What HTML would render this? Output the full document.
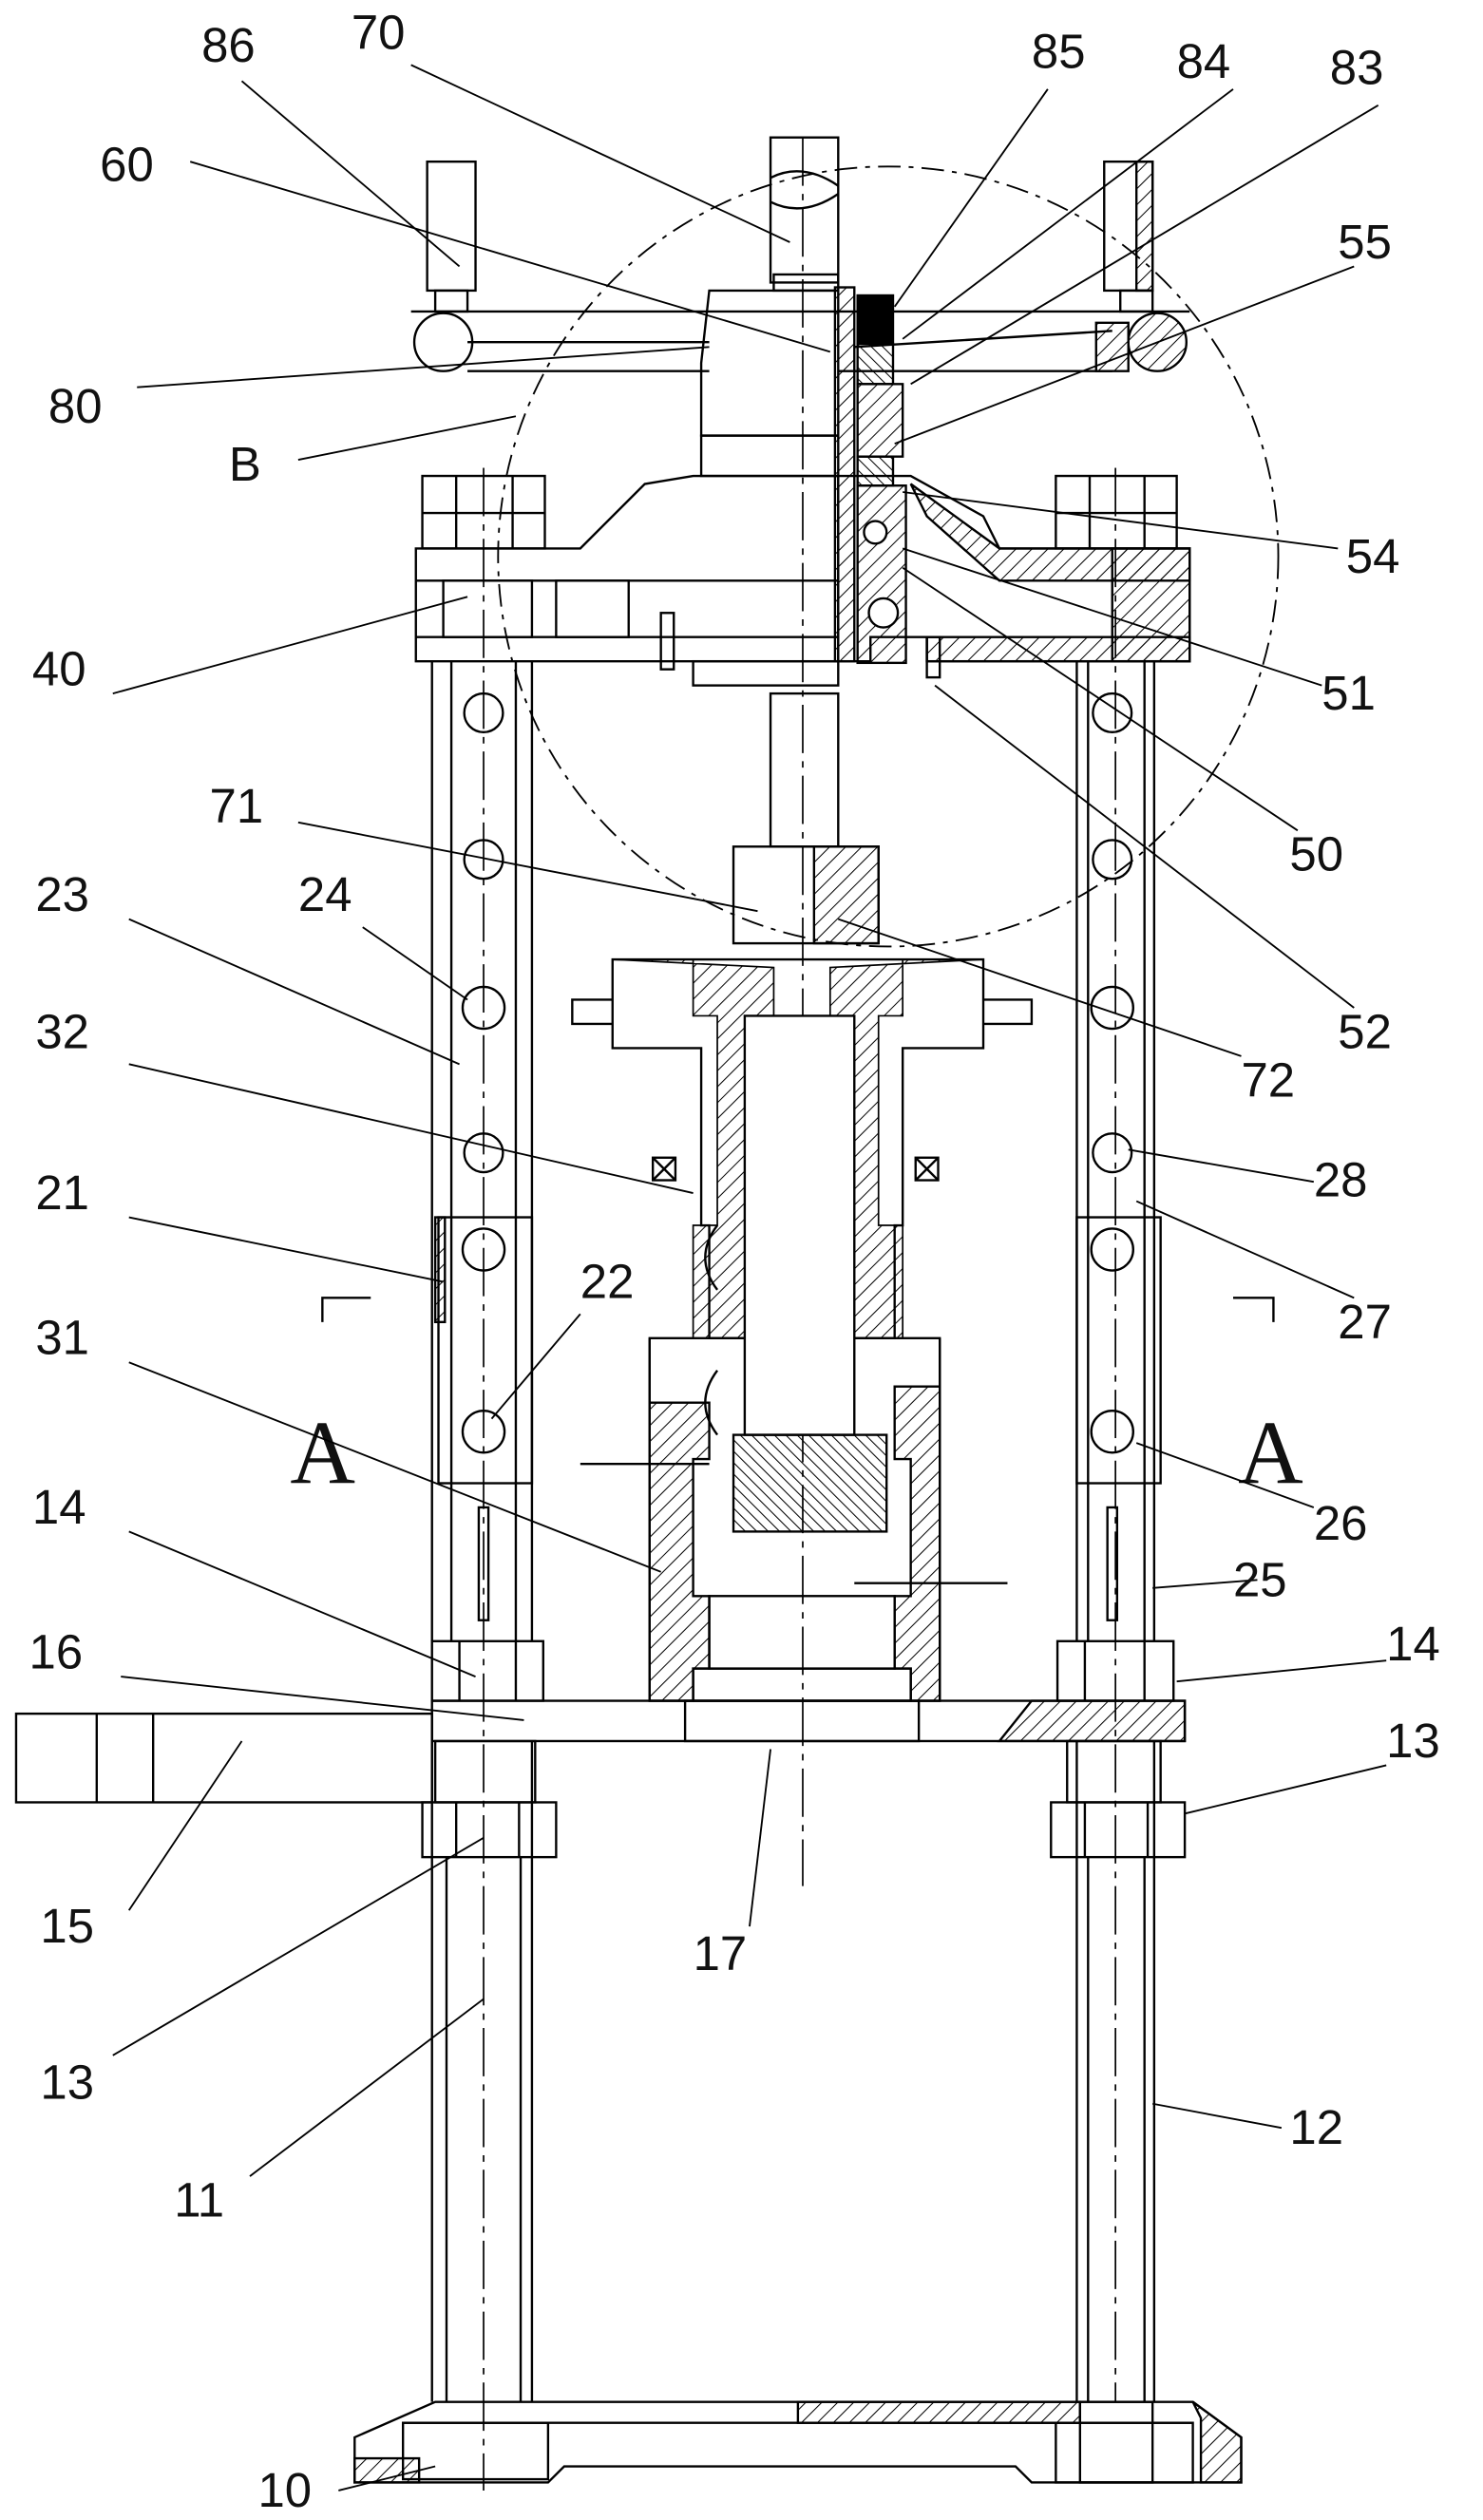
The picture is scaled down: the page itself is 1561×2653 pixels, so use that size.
<!DOCTYPE html>
<html><head><meta charset="utf-8"><style>
html,body{margin:0;padding:0;background:#fff}
svg{display:block}
text{font-family:"Liberation Sans",sans-serif;font-size:30px;fill:#111}
</style></head><body>
<svg width="1561" height="2653" viewBox="0 0 920 1563" xmlns="http://www.w3.org/2000/svg">
<defs>
<pattern id="h" width="7" height="7" patternUnits="userSpaceOnUse" patternTransform="rotate(45)"><line x1="0" y1="0" x2="0" y2="7" stroke="#000" stroke-width="1.2"/></pattern>
<pattern id="h2" width="5" height="5" patternUnits="userSpaceOnUse" patternTransform="rotate(-45)"><line x1="0" y1="0" x2="0" y2="5" stroke="#000" stroke-width="1.2"/></pattern>
</defs>
<g fill="none" stroke="#000" stroke-width="1.4">
<!-- dashed circle B -->
<circle cx="551" cy="345" r="242" stroke-dasharray="14 5 3 5" stroke-width="1.1"/>
<!-- center line -->
<line x1="498" y1="85" x2="498" y2="1170" stroke-dasharray="30 5 4 5" stroke-width="1"/>
<line x1="300" y1="290" x2="300" y2="1545" stroke-dasharray="30 5 4 5" stroke-width="1"/>
<line x1="692" y1="290" x2="692" y2="1490" stroke-dasharray="30 5 4 5" stroke-width="1"/>

<!-- base -->
<path d="M270 1490 H740 L770 1512 V1540 H640 L630 1530 H350 L340 1540 H220 V1512 Z"/>
<rect x="495" y="1490" width="175" height="13" fill="url(#h)"/>
<line x1="250" y1="1503" x2="740" y2="1503"/>
<rect x="250" y="1503" width="90" height="35"/>
<rect x="655" y="1503" width="85" height="37"/>
<rect x="670" y="1490" width="45" height="50"/>
<path d="M740 1490 L770 1512 V1540 H745 V1500 Z" fill="url(#h)"/>
<path d="M220 1525 H260 V1540 H220 Z" fill="url(#h)"/>

<!-- columns lower -->
<line x1="268" y1="1080" x2="268" y2="1490"/><line x1="330" y1="1080" x2="330" y2="1490"/>
<line x1="277" y1="1152" x2="277" y2="1490"/><line x1="323" y1="1152" x2="323" y2="1490"/>
<line x1="668" y1="1080" x2="668" y2="1490"/><line x1="716" y1="1080" x2="716" y2="1490"/>
<line x1="675" y1="1152" x2="675" y2="1490"/><line x1="710" y1="1152" x2="710" y2="1490"/>

<!-- nuts 13 -->
<rect x="262" y="1118" width="83" height="34"/><line x1="283" y1="1118" x2="283" y2="1152"/><line x1="322" y1="1118" x2="322" y2="1152"/>
<rect x="652" y="1118" width="83" height="34"/><line x1="673" y1="1118" x2="673" y2="1152"/><line x1="712" y1="1118" x2="712" y2="1152"/>
<rect x="270" y="1080" width="62" height="38"/><rect x="662" y="1080" width="58" height="38"/>

<!-- plate 16 -->
<rect x="268" y="1055" width="467" height="25"/>
<rect x="425" y="1055" width="145" height="25"/>
<path d="M640 1055 H735 V1080 H620 Z" fill="url(#h)"/>
<!-- handle 15 -->
<rect x="10" y="1063" width="258" height="55"/>
<line x1="60" y1="1063" x2="60" y2="1118"/><line x1="95" y1="1063" x2="95" y2="1118"/>

<!-- nuts 14 -->
<rect x="268" y="1018" width="69" height="37"/><line x1="285" y1="1018" x2="285" y2="1055"/><line x1="320" y1="1018" x2="320" y2="1055"/>
<rect x="656" y="1018" width="72" height="37"/><line x1="673" y1="1018" x2="673" y2="1055"/><line x1="710" y1="1018" x2="710" y2="1055"/>

<!-- uprights -->
<line x1="268" y1="410" x2="268" y2="1018"/><line x1="280" y1="410" x2="280" y2="1018"/>
<line x1="320" y1="410" x2="320" y2="1018"/><line x1="330" y1="410" x2="330" y2="1018"/>
<line x1="668" y1="410" x2="668" y2="1018"/><line x1="675" y1="410" x2="675" y2="1018"/>
<line x1="710" y1="410" x2="710" y2="1018"/><line x1="716" y1="410" x2="716" y2="1018"/>
<g>
<circle cx="300" cy="442" r="12"/><circle cx="300" cy="533" r="12"/><circle cx="300" cy="625" r="13"/><circle cx="300" cy="715" r="12"/><circle cx="300" cy="775" r="13"/><circle cx="300" cy="888" r="13"/>
<circle cx="690" cy="442" r="12"/><circle cx="690" cy="533" r="12"/><circle cx="690" cy="625" r="13"/><circle cx="690" cy="715" r="12"/><circle cx="690" cy="775" r="13"/><circle cx="690" cy="888" r="13"/>
</g>
<!-- brackets -->
<rect x="272" y="755" width="58" height="165"/><rect x="270" y="755" width="6" height="65" fill="url(#h)"/>
<rect x="668" y="755" width="52" height="165"/>
<rect x="297" y="935" width="6" height="70"/><rect x="687" y="935" width="6" height="70"/>
<!-- A markers -->
<path d="M200 820 V805 H230" /><path d="M790 820 V805 H765"/>
</g>
<text x="180" y="920" style="font-size:56px;font-family:'Liberation Serif',serif">A</text>
<text x="768" y="920" style="font-size:56px;font-family:'Liberation Serif',serif">A</text>

<g fill="none" stroke="#000" stroke-width="1.4">
<!-- body 31 -->
<rect x="403" y="830" width="180" height="225"/>
<path d="M403 830 V1055 H430 V1035 H440 V990 H430 V905 H440 V870 H403 Z" fill="url(#h)"/>
<path d="M583 830 V1055 H565 V1035 H555 V990 H565 V905 H555 V860 H583 Z" fill="url(#h)"/>
<rect x="430" y="1035" width="135" height="20"/>
<rect x="440" y="990" width="115" height="45"/>
<line x1="360" y1="908" x2="440" y2="908"/><line x1="530" y1="982" x2="625" y2="982"/>
<!-- shaft 32 -->
<path d="M380 595 H610 V650 H560 V760 H555 V830 H440 V760 H435 V650 H380 Z"/>
<path d="M380 620 H355 V635 H380" /><path d="M610 620 H640 V635 H610"/>
<path d="M380 595 H430 V630 H445 V760 H430 V830 H462 V700 H480 V600 Z" fill="url(#h)" stroke-width="1"/>
<path d="M610 595 H560 V630 H545 V760 H560 V830 H530 V700 H515 V600 Z" fill="url(#h)" stroke-width="1"/>
<rect x="462" y="630" width="68" height="260" fill="#fff"/>
<rect x="455" y="890" width="95" height="60" fill="url(#h2)"/>
<rect x="405" y="718" width="14" height="14"/><path d="M405 718 L419 732 M419 718 L405 732"/>
<rect x="568" y="718" width="14" height="14"/><path d="M568 718 L582 732 M582 718 L568 732"/>
<path d="M445 760 Q430 780 445 800 M445 850 Q430 870 445 890"/>

<!-- 71 / 72 coupling -->
<rect x="455" y="525" width="90" height="60"/><rect x="505" y="525" width="40" height="60" fill="url(#h)"/>
<rect x="478" y="430" width="42" height="95"/>

<!-- crossbar 40 -->
<path d="M258 340 H360 L400 300 L430 295 H520 V410 H258 Z"/>
<line x1="258" y1="360" x2="520" y2="360"/>
<line x1="258" y1="395" x2="520" y2="395"/>
<rect x="275" y="360" width="55" height="35"/>
<rect x="345" y="360" width="45" height="35"/>
<path d="M520 295 H565 L610 320 L620 340 H738 V410 H575 V395 H540 V410 H520 Z"/>
<path d="M565 300 L620 340 H738 V360 H620 L575 320 Z" fill="url(#h)"/>
<rect x="690" y="340" width="48" height="70" fill="url(#h)"/>
<rect x="575" y="395" width="163" height="15" fill="url(#h)"/>
<rect x="410" y="380" width="8" height="35"/><rect x="575" y="395" width="8" height="25"/>
<rect x="430" y="410" width="90" height="15"/>
<!-- nuts top -->
<rect x="262" y="295" width="76" height="45"/><line x1="283" y1="295" x2="283" y2="340"/><line x1="318" y1="295" x2="318" y2="340"/><line x1="262" y1="318" x2="338" y2="318"/>
<rect x="655" y="295" width="75" height="45"/><line x1="676" y1="295" x2="676" y2="340"/><line x1="710" y1="295" x2="710" y2="340"/><line x1="655" y1="318" x2="730" y2="318"/>

<!-- top block 60 -->
<path d="M440 180 H520 V270 H435 V225 Z"/>
<rect x="435" y="270" width="85" height="25"/>
<rect x="480" y="170" width="40" height="10"/>
<!-- shaft 70 -->
<rect x="478" y="85" width="42" height="90"/>
<path d="M478 110 Q498 100 520 115 M478 125 Q498 135 520 120"/>
<!-- vertical hatched spindle -->
<rect x="518" y="178" width="12" height="232" fill="url(#h)"/>
<rect x="532" y="183" width="22" height="30" fill="#000"/>
<rect x="532" y="213" width="22" height="25" fill="url(#h2)"/>
<rect x="532" y="238" width="28" height="45" fill="url(#h)"/>
<rect x="532" y="283" width="22" height="18" fill="url(#h2)"/>
<rect x="532" y="301" width="30" height="110" fill="url(#h)"/>
<circle cx="543" cy="330" r="7" fill="#fff"/><circle cx="548" cy="380" r="9" fill="#fff"/>

<!-- top bar 80 -->
<line x1="255" y1="193" x2="738" y2="193"/>
<path d="M290 212 H440 M290 230 H440" />
<path d="M520 230 H690"/><path d="M530 215 L690 205"/>
<circle cx="275" cy="212" r="18"/>
<circle cx="718" cy="212" r="18" fill="url(#h)"/>
<path d="M680 200 H700 V230 H680 Z" fill="url(#h)"/>
<rect x="265" y="100" width="30" height="80"/><rect x="270" y="180" width="20" height="13"/>
<rect x="685" y="100" width="30" height="80"/><rect x="705" y="100" width="10" height="80" fill="url(#h)"/>
<rect x="695" y="180" width="20" height="13"/>
</g>

<!-- leader lines -->
<g stroke="#000" stroke-width="1.1" fill="none">
<line x1="150" y1="50" x2="285" y2="165"/>
<line x1="255" y1="40" x2="490" y2="150"/>
<line x1="118" y1="100" x2="515" y2="218"/>
<line x1="650" y1="55" x2="555" y2="190"/>
<line x1="765" y1="55" x2="560" y2="210"/>
<line x1="855" y1="65" x2="565" y2="238"/>
<line x1="840" y1="165" x2="555" y2="275"/>
<line x1="85" y1="240" x2="440" y2="215"/>
<line x1="185" y1="285" x2="320" y2="258"/>
<line x1="830" y1="340" x2="560" y2="305"/>
<line x1="70" y1="430" x2="290" y2="370"/>
<line x1="820" y1="425" x2="560" y2="340"/>
<line x1="805" y1="515" x2="560" y2="352"/>
<line x1="840" y1="625" x2="580" y2="425"/>
<line x1="185" y1="510" x2="470" y2="565"/>
<line x1="770" y1="655" x2="520" y2="570"/>
<line x1="80" y1="570" x2="285" y2="660"/>
<line x1="225" y1="575" x2="290" y2="620"/>
<line x1="80" y1="660" x2="430" y2="740"/>
<line x1="815" y1="733" x2="700" y2="713"/>
<line x1="80" y1="755" x2="275" y2="795"/>
<line x1="840" y1="805" x2="705" y2="745"/>
<line x1="360" y1="815" x2="305" y2="880"/>
<line x1="80" y1="845" x2="410" y2="975"/>
<line x1="815" y1="935" x2="705" y2="895"/>
<line x1="780" y1="980" x2="715" y2="985"/>
<line x1="80" y1="950" x2="295" y2="1040"/>
<line x1="860" y1="1030" x2="730" y2="1043"/>
<line x1="75" y1="1040" x2="325" y2="1067"/>
<line x1="860" y1="1095" x2="735" y2="1125"/>
<line x1="80" y1="1185" x2="150" y2="1080"/>
<line x1="465" y1="1195" x2="478" y2="1085"/>
<line x1="70" y1="1275" x2="300" y2="1140"/>
<line x1="795" y1="1320" x2="715" y2="1305"/>
<line x1="155" y1="1350" x2="300" y2="1240"/>
<line x1="210" y1="1545" x2="270" y2="1530"/>
</g>

<g>
<text x="125" y="38">86</text><text x="218" y="30">70</text><text x="62" y="112">60</text>
<text x="640" y="42">85</text><text x="730" y="48">84</text><text x="825" y="52">83</text>
<text x="830" y="160">55</text><text x="30" y="262">80</text><text x="142" y="298">B</text>
<text x="835" y="355">54</text><text x="20" y="425">40</text><text x="820" y="440">51</text>
<text x="800" y="540">50</text><text x="830" y="650">52</text><text x="130" y="510">71</text>
<text x="770" y="680">72</text><text x="22" y="565">23</text><text x="185" y="565">24</text>
<text x="22" y="650">32</text><text x="815" y="742">28</text><text x="22" y="750">21</text>
<text x="830" y="830">27</text><text x="360" y="805">22</text><text x="22" y="840">31</text>
<text x="815" y="955">26</text><text x="765" y="990">25</text><text x="20" y="945">14</text>
<text x="860" y="1030">14</text><text x="18" y="1035">16</text><text x="860" y="1090">13</text>
<text x="25" y="1205">15</text><text x="430" y="1222">17</text><text x="25" y="1302">13</text>
<text x="800" y="1330">12</text><text x="108" y="1375">11</text><text x="160" y="1555">10</text>
</g>
</svg>
</body></html>
